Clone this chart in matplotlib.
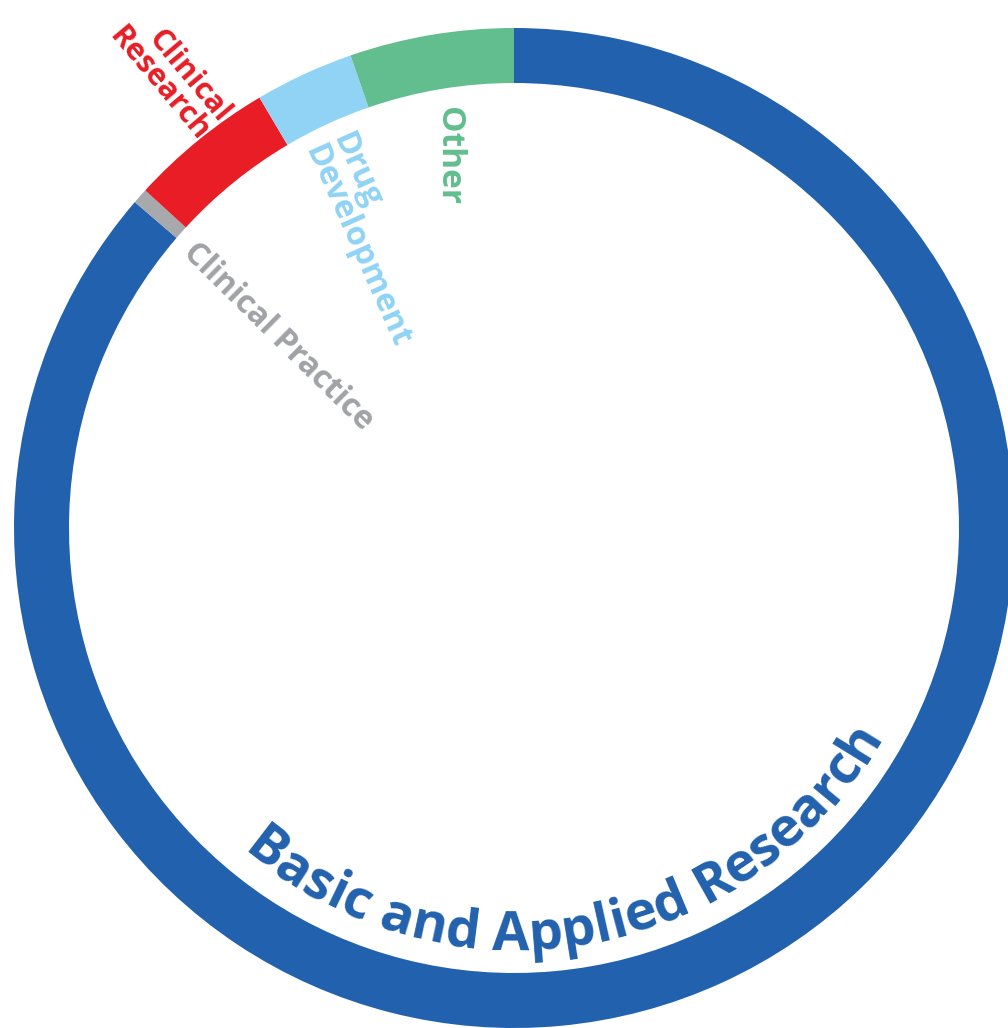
import matplotlib
matplotlib.use('Agg')
import matplotlib.pyplot as plt
import numpy as np
from matplotlib.font_manager import FontProperties

# ---- data ----
categories = ['Basic and Applied Research', 'Clinical Practice', 'Clinical Research',
              'Drug Development', 'Other']
shares = [86.3, 0.5, 4.7, 3.2, 5.3]
colors = ['#2261AD', '#A7A9AC', '#E81D25', '#90D3F4', '#62BE8E']
label_texts = ['Basic and Applied Research', 'Clinical Practice', 'Clinical\nResearch',
               'Drug\nDevelopment', 'Other']

W, H = 1008, 1028
fig = plt.figure(figsize=(W / 100, H / 100), dpi=100)
ax = fig.add_axes([0, 0, 1, 1])
cx, cy = 514, H - 528
R, ring = 500, 55
ax.pie(shares, colors=colors, startangle=90, counterclock=False, radius=R,
       center=(cx, cy), wedgeprops=dict(width=ring, linewidth=0))
ax.set_xlim(0, W)
ax.set_ylim(0, H)
ax.set_aspect('equal')
ax.axis('off')

FAM = 'Open Sans'

# straight labels
ax.text(449, H - 156, label_texts[4], color=colors[4], rotation=-90,
        ha='center', va='center', fontsize=24, fontweight='bold', family=FAM)
ax.text(326, H - 140, label_texts[3], color=colors[3], rotation=-66,
        rotation_mode='anchor', ha='left', va='center', multialignment='left',
        fontsize=23.5, fontweight='bold', family=FAM, linespacing=0.9)
ax.text(214, H - 128, label_texts[2], color=colors[2], rotation=-50,
        rotation_mode='anchor', ha='right', va='center', multialignment='right',
        fontsize=22, fontweight='bold', family=FAM, linespacing=0.9)
ax.text(188, H - 248, label_texts[1], color='#A0A2A5', rotation=-44.5,
        rotation_mode='anchor', ha='left', va='center',
        fontsize=23, fontweight='bold', family=FAM)

# curved label along inner edge of ring
fp = FontProperties(family=FAM, weight='bold', size=39)
renderer = fig.canvas.get_renderer()


def w_of(s):
    return renderer.get_text_width_height_descent(s, fp, ismath=False)[0]


space_w = w_of('a a') - w_of('aa')
text = label_texts[0]
widths = [space_w if ch == ' ' else w_of(ch) for ch in text]
rb = 422
first_ang, last_ang = np.deg2rad(-127.6), np.deg2rad(-31.7)
natural = sum(widths) - widths[0] / 2 - widths[-1] / 2
track = (last_ang - first_ang) * rb / natural
s = 0.0
for ch, cw in zip(text, widths):
    if ch != ' ':
        th = first_ang + (s + cw / 2 - widths[0] / 2) * track / rb
        ax.text(cx + rb * np.cos(th), cy + rb * np.sin(th), ch, fontproperties=fp,
                color=colors[0], rotation=np.rad2deg(th) + 90, rotation_mode='anchor',
                ha='center', va='baseline')
    s += cw

fig.savefig('out.png', dpi=100, facecolor='white')
